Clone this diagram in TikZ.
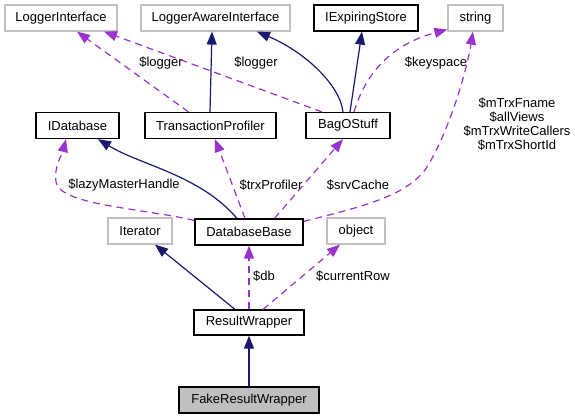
\documentclass[tikz,border=0pt]{standalone}
\usepackage{fontspec}
\setmainfont{Liberation Sans}
\usetikzlibrary{arrows.meta}
\definecolor{inhblue}{HTML}{191970}
\definecolor{usepurple}{HTML}{9A32CD}
\definecolor{extgrey}{HTML}{BFBFBF}

\begin{document}
\begin{tikzpicture}[x=1pt,y=-1pt,every node/.style={font=\fontsize{13}{14}\selectfont},
 cls/.style={draw=black,line width=1.2pt,minimum height=26pt,inner sep=0pt},
 ext/.style={draw=extgrey,line width=1.2pt,minimum height=26pt,inner sep=0pt},
 inh/.style={-{Triangle[length=13pt,width=10pt]},draw=inhblue,line width=1.2pt},
 dep/.style={-{Triangle[length=13pt,width=10pt]},draw=usepurple,line width=1.2pt,dash pattern=on 7pt off 5pt},
 lbl/.style={inner sep=0pt,align=center}]
\useasboundingbox (0,0) rectangle (575,419);
\node[ext,minimum width=112pt] (li) at (61,18) {LoggerInterface};
\node[ext,minimum width=149pt] (lai) at (215.5,18) {LoggerAwareInterface};
\node[cls,minimum width=104pt] (ies) at (366,18) {IExpiringStore};
\node[ext,minimum width=55pt] (str) at (475.5,18) {string};
\node[cls,minimum width=83pt] (idb) at (77.5,125.5) {IDatabase};
\node[cls,minimum width=131pt] (tp) at (210.5,125.5) {TransactionProfiler};
\node[cls,minimum width=84pt] (bag) at (348,125.5) {BagOStuff};
\node[ext,minimum width=64pt] (it) at (140,231) {Iterator};
\node[cls,minimum width=108pt] (dbb) at (249,232) {DatabaseBase};
\node[ext,minimum width=58pt] (obj) at (356,231) {object};
\node[cls,minimum width=110pt,minimum height=25pt] (rw) at (249,322.5) {ResultWrapper};
\node[cls,fill=extgrey,minimum width=140pt] (frw) at (249,400) {FakeResultWrapper};
\node[lbl] (llog) at (161,63) {\$logger};
\node[lbl] (llog2) at (256,63) {\$logger};
\node[lbl] (lkey) at (436,63) {\$keyspace};
\node[lbl] (ltrx) at (517,124) {\$mTrxFname\\\$allViews\\\$mTrxWriteCallers\\\$mTrxShortId};
\node[lbl] (llazy) at (124,185) {\$lazyMasterHandle};
\node[lbl] (lprof) at (271,185) {\$trxProfiler};
\node[lbl] (lsrv) at (358,185) {\$srvCache};
\node[lbl] (ldb) at (264,276) {\$db};
\node[lbl] (lrow) at (353,276) {\$currentRow};
\draw[inh] ([xshift=-0.5]tp.north) -- ([xshift=-3.5]lai.south);
\draw[dep] ([xshift=-22]tp.north) -- ([xshift=16]li.south);
\draw[dep] ([xshift=-26]bag.north) -- ([xshift=43]li.south);
\draw[inh] ([xshift=-5]bag.north) .. controls (340,85) and (305,52) .. ([xshift=41.5]lai.south);
\draw[inh] ([xshift=2]bag.north) -- ([xshift=-4]ies.south);
\draw[dep] ([xshift=6]bag.north) .. controls (368,65) and (400,42) .. ([yshift=2]str.south west);
\draw[dep] ([yshift=-3]dbb.north east) .. controls (370,205) and (405,195) .. (425,170) .. controls (445,140) and (465,80) .. ([xshift=-2.5]str.south);
\draw[inh] ([xshift=-12]dbb.north) .. controls (200,175) and (140,165) .. ([xshift=20.5]idb.south);
\draw[dep] ([yshift=-2]dbb.north west) .. controls (140,208) and (60,205) .. (56,182) .. controls (54,165) and (62,155) .. ([xshift=-11.5]idb.south);
\draw[dep] ([xshift=-4]dbb.north) -- ([xshift=4.5]tp.south);
\draw[dep] ([xshift=25.5]dbb.north) -- ([xshift=-5]bag.south);
\draw[inh] ([xshift=-14]rw.north) -- ([xshift=15]it.south);
\draw[dep] (rw.north) -- (dbb.south);
\draw[dep] ([xshift=14]rw.north) -- ([xshift=-16]obj.south);
\draw[inh] (frw.north) -- (rw.south);
\end{tikzpicture}
\end{document}
